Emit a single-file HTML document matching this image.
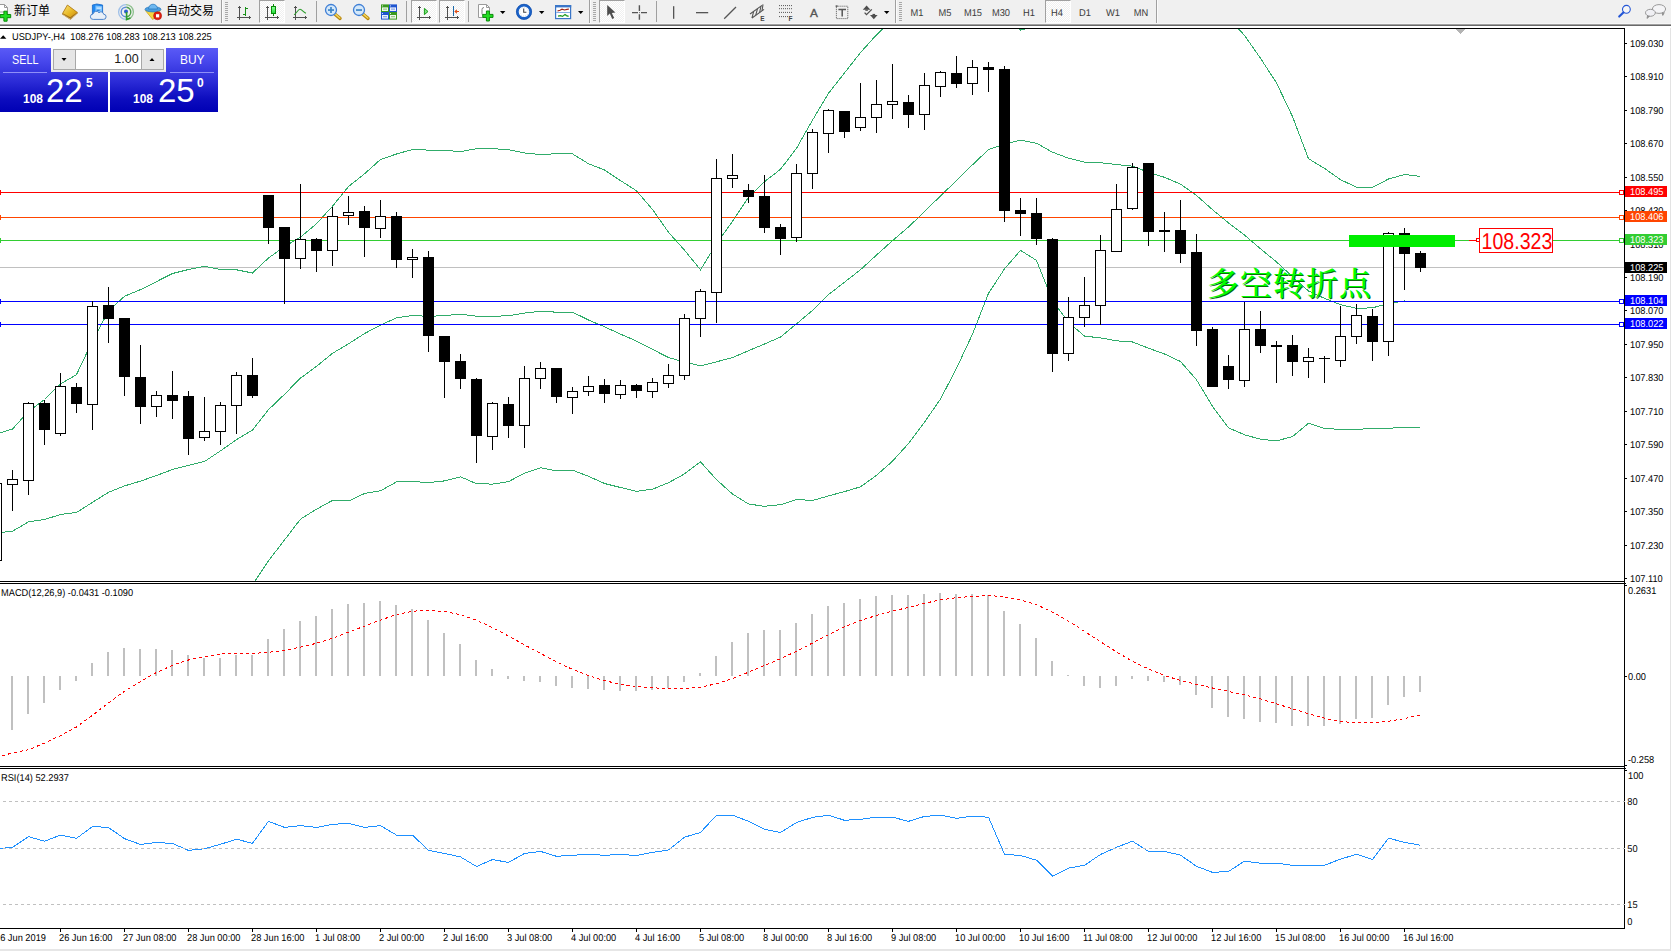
<!DOCTYPE html>
<html><head><meta charset="utf-8"><title>USDJPY-,H4</title>
<style>
html,body{margin:0;padding:0;background:#fff;}
#app{position:relative;width:1671px;height:951px;overflow:hidden;background:#fff;font-family:"Liberation Sans","Noto Sans CJK SC",sans-serif;}
svg{position:absolute;left:0;top:0;}
.txt text{font-family:"Liberation Sans","Noto Sans CJK SC",sans-serif;}

#tb{position:absolute;left:0;top:0;width:1671px;height:23px;background:#f0f0f0;}
#tbl{position:absolute;left:0;top:23px;width:1671px;height:5px;background:linear-gradient(#f6f6f6 0,#f6f6f6 1px,#a0a0a0 1px,#a0a0a0 2px,#696969 2px,#696969 3px,#fff 3px,#fff 5px);}
.tt{position:absolute;top:3px;font-size:12px;line-height:16px;color:#000;white-space:nowrap;}
.tf{position:absolute;top:7px;font-size:10.2px;line-height:12px;color:#3c3c3c;white-space:nowrap;text-align:center;width:28px;}
.pb{position:absolute;top:0;height:23px;width:26px;background:repeating-conic-gradient(#fff 0 25%,#f0f0f0 0 50%) 0 0/2px 2px;border-top:1px solid #a0a0a0;border-left:1px solid #a0a0a0;border-right:1px solid #fff;border-bottom:1px solid #fff;box-sizing:border-box;}


#tp{position:absolute;left:0;top:48px;width:218px;height:64px;}
#tp .blk{position:absolute;background:linear-gradient(#5a5af6 0,#4a4aee 18%,#2a2ad6 50%,#0c0cbe 80%,#0000b4 100%);}
#tp .lbl{position:absolute;color:#fff;font-size:13px;line-height:14px;top:5px;}
#tp .ul{position:absolute;top:24px;height:1px;background:#8f8ff8;}
#tp .sm{position:absolute;color:#fff;font-size:12px;font-weight:700;line-height:12px;top:45px;}
#tp .bg{position:absolute;color:#fff;font-size:33px;line-height:33px;top:26px;}
#tp .su{position:absolute;color:#fff;font-size:12px;font-weight:700;line-height:12px;top:29px;}
#sp{position:absolute;left:53px;top:1px;width:111px;height:21px;box-sizing:border-box;border:1px solid #a8a8a8;background:#fff;}
#sp .b{position:absolute;top:0;width:21px;height:19px;background:#e6e6e6;}
#sp .v{position:absolute;right:24.4px;top:2px;font-size:12.5px;line-height:15px;color:#1a1a1a;}

</style></head><body>
<div id="app">
<svg id="gfx" width="1671" height="951" viewBox="0 0 1671 951" shape-rendering="crispEdges">
<clipPath id="cm"><rect x="0" y="29" width="1624" height="552"/></clipPath>
<clipPath id="c2"><rect x="0" y="584" width="1624" height="182"/></clipPath>
<clipPath id="c3"><rect x="0" y="769" width="1624" height="159"/></clipPath>
<g clip-path="url(#cm)">
<rect x="0" y="267" width="1624" height="1" fill="#c0c0c0"/>
<polyline points="-3.5,434.0 12.5,429.0 28.5,411.5 44.5,399.5 60.5,384.0 76.5,374.6 92.5,341.0 108.5,311.0 124.5,296.3 140.5,289.6 156.5,281.6 172.5,273.5 188.5,269.5 204.5,266.4 220.5,269.5 236.5,269.8 252.5,273.0 268.5,258.0 284.5,246.5 300.5,237.1 316.5,223.7 332.5,206.2 348.5,186.5 364.5,173.8 380.5,159.5 396.5,154.0 412.5,149.5 428.5,150.1 444.5,150.3 460.5,151.6 476.5,148.7 492.5,148.6 508.5,149.7 524.5,153.0 540.5,154.6 556.5,153.7 572.5,153.9 588.5,163.7 604.5,170.0 620.5,180.6 636.5,190.8 652.5,209.5 668.5,232.3 684.5,250.2 700.5,269.8 716.5,243.8 732.5,221.3 748.5,197.4 764.5,181.7 780.5,169.3 796.5,148.3 812.5,120.2 828.5,93.3 844.5,72.9 860.5,52.6 876.5,34.8 892.5,20.0 908.5,10.5 924.5,1.0 940.5,-7.1 956.5,-7.1 972.5,-4.4 988.5,5.8 1004.5,19.4 1020.5,30.1 1036.5,26.1 1052.5,3.7 1068.5,-6.0 1084.5,-11.9 1100.5,-12.5 1116.5,-11.8 1132.5,-9.5 1148.5,-3.6 1164.5,0.6 1180.5,6.7 1196.5,11.0 1212.5,12.9 1228.5,18.0 1244.5,35.4 1260.5,58.3 1276.5,82.9 1292.5,116.6 1308.5,158.7 1324.5,168.4 1340.5,179.7 1356.5,187.2 1372.5,187.4 1388.5,179.0 1404.5,174.5 1420.5,176.5" fill="none" stroke="#30ac6a" stroke-width="1" />
<polyline points="-3.5,533.0 12.5,531.2 28.5,521.9 44.5,519.5 60.5,514.5 76.5,512.5 92.5,502.3 108.5,492.3 124.5,485.9 140.5,481.1 156.5,475.5 172.5,469.5 188.5,465.3 204.5,461.5 220.5,450.9 236.5,439.6 252.5,430.0 268.5,409.7 284.5,394.3 300.5,378.1 316.5,366.4 332.5,353.3 348.5,343.8 364.5,333.6 380.5,325.1 396.5,317.9 412.5,315.5 428.5,316.4 444.5,315.6 460.5,314.2 476.5,316.2 492.5,316.4 508.5,315.7 524.5,313.1 540.5,311.2 556.5,312.2 572.5,312.1 588.5,320.0 604.5,326.8 620.5,334.1 636.5,341.1 652.5,349.4 668.5,357.5 684.5,362.1 700.5,365.8 716.5,361.8 732.5,357.6 748.5,350.7 764.5,344.0 780.5,337.0 796.5,323.9 812.5,310.4 828.5,294.6 844.5,282.2 860.5,269.7 876.5,255.1 892.5,240.6 908.5,227.0 924.5,211.6 940.5,195.9 956.5,180.6 972.5,164.8 988.5,149.6 1004.5,144.2 1020.5,140.2 1036.5,143.2 1052.5,152.2 1068.5,158.2 1084.5,162.1 1100.5,162.7 1116.5,164.5 1132.5,166.2 1148.5,172.3 1164.5,177.3 1180.5,184.1 1196.5,195.4 1212.5,209.7 1228.5,222.9 1244.5,235.1 1260.5,248.8 1276.5,261.9 1292.5,276.6 1308.5,291.0 1324.5,298.4 1340.5,304.6 1356.5,308.4 1372.5,307.8 1388.5,303.6 1404.5,301.0 1420.5,301.9" fill="none" stroke="#30ac6a" stroke-width="1" />
<polyline points="-3.5,632.0 12.5,633.4 28.5,632.3 44.5,639.5 60.5,645.0 76.5,650.4 92.5,663.6 108.5,673.6 124.5,675.5 140.5,672.6 156.5,669.4 172.5,665.5 188.5,661.1 204.5,656.6 220.5,632.3 236.5,609.4 252.5,584.8 268.5,560.8 284.5,540.0 300.5,519.1 316.5,509.2 332.5,500.4 348.5,501.0 364.5,493.5 380.5,490.8 396.5,481.9 412.5,481.5 428.5,482.6 444.5,480.9 460.5,476.8 476.5,483.7 492.5,484.1 508.5,481.7 524.5,473.1 540.5,467.8 556.5,470.8 572.5,470.2 588.5,476.3 604.5,483.5 620.5,487.5 636.5,491.3 652.5,489.2 668.5,482.7 684.5,473.9 700.5,461.8 716.5,479.7 732.5,494.0 748.5,504.0 764.5,506.3 780.5,504.7 796.5,499.5 812.5,500.5 828.5,495.9 844.5,491.6 860.5,486.8 876.5,475.4 892.5,461.2 908.5,443.5 924.5,422.2 940.5,399.0 956.5,368.3 972.5,334.1 988.5,293.3 1004.5,268.9 1020.5,250.4 1036.5,260.4 1052.5,300.6 1068.5,322.4 1084.5,336.1 1100.5,337.9 1116.5,340.8 1132.5,342.0 1148.5,348.2 1164.5,354.0 1180.5,361.5 1196.5,379.8 1212.5,406.4 1228.5,427.8 1244.5,434.8 1260.5,439.2 1276.5,440.9 1292.5,436.6 1308.5,423.3 1324.5,428.4 1340.5,429.4 1356.5,429.6 1372.5,428.2 1388.5,428.2 1404.5,427.5 1420.5,427.2" fill="none" stroke="#30ac6a" stroke-width="1" />
<rect x="0" y="192" width="1624" height="1" fill="#ff0000"/>
<rect x="0" y="190" width="1" height="5" fill="#ff0000"/>
<rect x="1619" y="190" width="5" height="5" fill="#ff0000"/>
<rect x="1620" y="191" width="3" height="3" fill="#fff"/>
<rect x="0" y="217" width="1624" height="1" fill="#ff4500"/>
<rect x="0" y="215" width="1" height="5" fill="#ff4500"/>
<rect x="1619" y="215" width="5" height="5" fill="#ff4500"/>
<rect x="1620" y="216" width="3" height="3" fill="#fff"/>
<rect x="0" y="240" width="1624" height="1" fill="#32cd32"/>
<rect x="0" y="238" width="1" height="5" fill="#32cd32"/>
<rect x="1619" y="238" width="5" height="5" fill="#32cd32"/>
<rect x="1620" y="239" width="3" height="3" fill="#fff"/>
<rect x="0" y="301" width="1624" height="1" fill="#0000ff"/>
<rect x="0" y="299" width="1" height="5" fill="#0000ff"/>
<rect x="1619" y="299" width="5" height="5" fill="#0000ff"/>
<rect x="1620" y="300" width="3" height="3" fill="#fff"/>
<rect x="0" y="324" width="1624" height="1" fill="#0000ff"/>
<rect x="0" y="322" width="1" height="5" fill="#0000ff"/>
<rect x="1619" y="322" width="5" height="5" fill="#0000ff"/>
<rect x="1620" y="323" width="3" height="3" fill="#fff"/>
<rect x="-4" y="483" width="1" height="78" fill="#000"/>
<rect x="-9" y="483" width="11" height="78" fill="#000"/>
<rect x="-8" y="484" width="9" height="76" fill="#fff"/>
<rect x="12" y="470" width="1" height="41" fill="#000"/>
<rect x="7" y="479" width="11" height="6" fill="#000"/>
<rect x="8" y="480" width="9" height="4" fill="#fff"/>
<rect x="28" y="402" width="1" height="93" fill="#000"/>
<rect x="23" y="403" width="11" height="78" fill="#000"/>
<rect x="24" y="404" width="9" height="76" fill="#fff"/>
<rect x="44" y="400" width="1" height="45" fill="#000"/>
<rect x="39" y="403" width="11" height="27" fill="#000"/>
<rect x="60" y="373" width="1" height="63" fill="#000"/>
<rect x="55" y="386" width="11" height="48" fill="#000"/>
<rect x="56" y="387" width="9" height="46" fill="#fff"/>
<rect x="76" y="383" width="1" height="30" fill="#000"/>
<rect x="71" y="387" width="11" height="17" fill="#000"/>
<rect x="92" y="301" width="1" height="129" fill="#000"/>
<rect x="87" y="306" width="11" height="99" fill="#000"/>
<rect x="88" y="307" width="9" height="97" fill="#fff"/>
<rect x="108" y="287" width="1" height="56" fill="#000"/>
<rect x="103" y="305" width="11" height="14" fill="#000"/>
<rect x="124" y="318" width="1" height="78" fill="#000"/>
<rect x="119" y="318" width="11" height="59" fill="#000"/>
<rect x="140" y="345" width="1" height="79" fill="#000"/>
<rect x="135" y="377" width="11" height="30" fill="#000"/>
<rect x="156" y="391" width="1" height="26" fill="#000"/>
<rect x="151" y="395" width="11" height="12" fill="#000"/>
<rect x="152" y="396" width="9" height="10" fill="#fff"/>
<rect x="172" y="371" width="1" height="48" fill="#000"/>
<rect x="167" y="395" width="11" height="6" fill="#000"/>
<rect x="188" y="391" width="1" height="64" fill="#000"/>
<rect x="183" y="396" width="11" height="43" fill="#000"/>
<rect x="204" y="397" width="1" height="44" fill="#000"/>
<rect x="199" y="431" width="11" height="7" fill="#000"/>
<rect x="200" y="432" width="9" height="5" fill="#fff"/>
<rect x="220" y="402" width="1" height="43" fill="#000"/>
<rect x="215" y="405" width="11" height="27" fill="#000"/>
<rect x="216" y="406" width="9" height="25" fill="#fff"/>
<rect x="236" y="372" width="1" height="62" fill="#000"/>
<rect x="231" y="375" width="11" height="31" fill="#000"/>
<rect x="232" y="376" width="9" height="29" fill="#fff"/>
<rect x="252" y="358" width="1" height="40" fill="#000"/>
<rect x="247" y="375" width="11" height="21" fill="#000"/>
<rect x="268" y="195" width="1" height="49" fill="#000"/>
<rect x="263" y="195" width="11" height="33" fill="#000"/>
<rect x="284" y="227" width="1" height="77" fill="#000"/>
<rect x="279" y="227" width="11" height="32" fill="#000"/>
<rect x="300" y="184" width="1" height="85" fill="#000"/>
<rect x="295" y="239" width="11" height="20" fill="#000"/>
<rect x="296" y="240" width="9" height="18" fill="#fff"/>
<rect x="316" y="238" width="1" height="34" fill="#000"/>
<rect x="311" y="239" width="11" height="12" fill="#000"/>
<rect x="332" y="207" width="1" height="59" fill="#000"/>
<rect x="327" y="216" width="11" height="35" fill="#000"/>
<rect x="328" y="217" width="9" height="33" fill="#fff"/>
<rect x="348" y="196" width="1" height="29" fill="#000"/>
<rect x="343" y="212" width="11" height="4" fill="#000"/>
<rect x="344" y="213" width="9" height="2" fill="#fff"/>
<rect x="364" y="206" width="1" height="51" fill="#000"/>
<rect x="359" y="211" width="11" height="17" fill="#000"/>
<rect x="380" y="200" width="1" height="38" fill="#000"/>
<rect x="375" y="216" width="11" height="13" fill="#000"/>
<rect x="376" y="217" width="9" height="11" fill="#fff"/>
<rect x="396" y="212" width="1" height="56" fill="#000"/>
<rect x="391" y="216" width="11" height="44" fill="#000"/>
<rect x="412" y="249" width="1" height="29" fill="#000"/>
<rect x="407" y="257" width="11" height="3" fill="#000"/>
<rect x="408" y="258" width="9" height="1" fill="#fff"/>
<rect x="428" y="251" width="1" height="101" fill="#000"/>
<rect x="423" y="257" width="11" height="79" fill="#000"/>
<rect x="444" y="336" width="1" height="62" fill="#000"/>
<rect x="439" y="336" width="11" height="26" fill="#000"/>
<rect x="460" y="354" width="1" height="35" fill="#000"/>
<rect x="455" y="361" width="11" height="18" fill="#000"/>
<rect x="476" y="378" width="1" height="85" fill="#000"/>
<rect x="471" y="379" width="11" height="57" fill="#000"/>
<rect x="492" y="402" width="1" height="48" fill="#000"/>
<rect x="487" y="403" width="11" height="34" fill="#000"/>
<rect x="488" y="404" width="9" height="32" fill="#fff"/>
<rect x="508" y="397" width="1" height="41" fill="#000"/>
<rect x="503" y="404" width="11" height="22" fill="#000"/>
<rect x="524" y="366" width="1" height="82" fill="#000"/>
<rect x="519" y="378" width="11" height="48" fill="#000"/>
<rect x="520" y="379" width="9" height="46" fill="#fff"/>
<rect x="540" y="362" width="1" height="27" fill="#000"/>
<rect x="535" y="368" width="11" height="11" fill="#000"/>
<rect x="536" y="369" width="9" height="9" fill="#fff"/>
<rect x="556" y="368" width="1" height="35" fill="#000"/>
<rect x="551" y="368" width="11" height="29" fill="#000"/>
<rect x="572" y="387" width="1" height="27" fill="#000"/>
<rect x="567" y="391" width="11" height="7" fill="#000"/>
<rect x="568" y="392" width="9" height="5" fill="#fff"/>
<rect x="588" y="376" width="1" height="20" fill="#000"/>
<rect x="583" y="386" width="11" height="6" fill="#000"/>
<rect x="584" y="387" width="9" height="4" fill="#fff"/>
<rect x="604" y="379" width="1" height="24" fill="#000"/>
<rect x="599" y="385" width="11" height="9" fill="#000"/>
<rect x="620" y="380" width="1" height="19" fill="#000"/>
<rect x="615" y="385" width="11" height="10" fill="#000"/>
<rect x="616" y="386" width="9" height="8" fill="#fff"/>
<rect x="636" y="384" width="1" height="14" fill="#000"/>
<rect x="631" y="385" width="11" height="6" fill="#000"/>
<rect x="652" y="378" width="1" height="20" fill="#000"/>
<rect x="647" y="382" width="11" height="10" fill="#000"/>
<rect x="648" y="383" width="9" height="8" fill="#fff"/>
<rect x="668" y="364" width="1" height="24" fill="#000"/>
<rect x="663" y="375" width="11" height="9" fill="#000"/>
<rect x="664" y="376" width="9" height="7" fill="#fff"/>
<rect x="684" y="314" width="1" height="66" fill="#000"/>
<rect x="679" y="318" width="11" height="58" fill="#000"/>
<rect x="680" y="319" width="9" height="56" fill="#fff"/>
<rect x="700" y="289" width="1" height="48" fill="#000"/>
<rect x="695" y="291" width="11" height="28" fill="#000"/>
<rect x="696" y="292" width="9" height="26" fill="#fff"/>
<rect x="716" y="159" width="1" height="164" fill="#000"/>
<rect x="711" y="178" width="11" height="115" fill="#000"/>
<rect x="712" y="179" width="9" height="113" fill="#fff"/>
<rect x="732" y="154" width="1" height="34" fill="#000"/>
<rect x="727" y="175" width="11" height="4" fill="#000"/>
<rect x="728" y="176" width="9" height="2" fill="#fff"/>
<rect x="748" y="184" width="1" height="19" fill="#000"/>
<rect x="743" y="190" width="11" height="7" fill="#000"/>
<rect x="764" y="175" width="1" height="58" fill="#000"/>
<rect x="759" y="196" width="11" height="32" fill="#000"/>
<rect x="780" y="224" width="1" height="31" fill="#000"/>
<rect x="775" y="227" width="11" height="12" fill="#000"/>
<rect x="796" y="164" width="1" height="78" fill="#000"/>
<rect x="791" y="173" width="11" height="65" fill="#000"/>
<rect x="792" y="174" width="9" height="63" fill="#fff"/>
<rect x="812" y="129" width="1" height="60" fill="#000"/>
<rect x="807" y="132" width="11" height="42" fill="#000"/>
<rect x="808" y="133" width="9" height="40" fill="#fff"/>
<rect x="828" y="109" width="1" height="44" fill="#000"/>
<rect x="823" y="110" width="11" height="24" fill="#000"/>
<rect x="824" y="111" width="9" height="22" fill="#fff"/>
<rect x="844" y="111" width="1" height="27" fill="#000"/>
<rect x="839" y="111" width="11" height="21" fill="#000"/>
<rect x="860" y="83" width="1" height="48" fill="#000"/>
<rect x="855" y="117" width="11" height="11" fill="#000"/>
<rect x="856" y="118" width="9" height="9" fill="#fff"/>
<rect x="876" y="80" width="1" height="53" fill="#000"/>
<rect x="871" y="104" width="11" height="14" fill="#000"/>
<rect x="872" y="105" width="9" height="12" fill="#fff"/>
<rect x="892" y="64" width="1" height="55" fill="#000"/>
<rect x="887" y="101" width="11" height="4" fill="#000"/>
<rect x="888" y="102" width="9" height="2" fill="#fff"/>
<rect x="908" y="95" width="1" height="33" fill="#000"/>
<rect x="903" y="102" width="11" height="13" fill="#000"/>
<rect x="924" y="73" width="1" height="57" fill="#000"/>
<rect x="919" y="85" width="11" height="30" fill="#000"/>
<rect x="920" y="86" width="9" height="28" fill="#fff"/>
<rect x="940" y="71" width="1" height="26" fill="#000"/>
<rect x="935" y="72" width="11" height="15" fill="#000"/>
<rect x="936" y="73" width="9" height="13" fill="#fff"/>
<rect x="956" y="56" width="1" height="32" fill="#000"/>
<rect x="951" y="73" width="11" height="11" fill="#000"/>
<rect x="972" y="60" width="1" height="35" fill="#000"/>
<rect x="967" y="67" width="11" height="17" fill="#000"/>
<rect x="968" y="68" width="9" height="15" fill="#fff"/>
<rect x="988" y="62" width="1" height="30" fill="#000"/>
<rect x="983" y="67" width="11" height="3" fill="#000"/>
<rect x="1004" y="66" width="1" height="156" fill="#000"/>
<rect x="999" y="69" width="11" height="142" fill="#000"/>
<rect x="1020" y="198" width="1" height="38" fill="#000"/>
<rect x="1015" y="210" width="11" height="4" fill="#000"/>
<rect x="1036" y="198" width="1" height="47" fill="#000"/>
<rect x="1031" y="213" width="11" height="26" fill="#000"/>
<rect x="1052" y="238" width="1" height="134" fill="#000"/>
<rect x="1047" y="239" width="11" height="115" fill="#000"/>
<rect x="1068" y="297" width="1" height="64" fill="#000"/>
<rect x="1063" y="317" width="11" height="37" fill="#000"/>
<rect x="1064" y="318" width="9" height="35" fill="#fff"/>
<rect x="1084" y="277" width="1" height="50" fill="#000"/>
<rect x="1079" y="305" width="11" height="13" fill="#000"/>
<rect x="1080" y="306" width="9" height="11" fill="#fff"/>
<rect x="1100" y="235" width="1" height="90" fill="#000"/>
<rect x="1095" y="250" width="11" height="56" fill="#000"/>
<rect x="1096" y="251" width="9" height="54" fill="#fff"/>
<rect x="1116" y="184" width="1" height="68" fill="#000"/>
<rect x="1111" y="209" width="11" height="43" fill="#000"/>
<rect x="1112" y="210" width="9" height="41" fill="#fff"/>
<rect x="1132" y="163" width="1" height="47" fill="#000"/>
<rect x="1127" y="167" width="11" height="42" fill="#000"/>
<rect x="1128" y="168" width="9" height="40" fill="#fff"/>
<rect x="1148" y="163" width="1" height="83" fill="#000"/>
<rect x="1143" y="163" width="11" height="69" fill="#000"/>
<rect x="1164" y="212" width="1" height="40" fill="#000"/>
<rect x="1159" y="230" width="11" height="2" fill="#000"/>
<rect x="1180" y="200" width="1" height="63" fill="#000"/>
<rect x="1175" y="230" width="11" height="24" fill="#000"/>
<rect x="1196" y="234" width="1" height="112" fill="#000"/>
<rect x="1191" y="252" width="11" height="79" fill="#000"/>
<rect x="1212" y="327" width="1" height="60" fill="#000"/>
<rect x="1207" y="329" width="11" height="58" fill="#000"/>
<rect x="1228" y="355" width="1" height="34" fill="#000"/>
<rect x="1223" y="366" width="11" height="14" fill="#000"/>
<rect x="1244" y="302" width="1" height="85" fill="#000"/>
<rect x="1239" y="329" width="11" height="52" fill="#000"/>
<rect x="1240" y="330" width="9" height="50" fill="#fff"/>
<rect x="1260" y="311" width="1" height="42" fill="#000"/>
<rect x="1255" y="329" width="11" height="17" fill="#000"/>
<rect x="1276" y="341" width="1" height="42" fill="#000"/>
<rect x="1271" y="345" width="11" height="2" fill="#000"/>
<rect x="1292" y="335" width="1" height="41" fill="#000"/>
<rect x="1287" y="345" width="11" height="17" fill="#000"/>
<rect x="1308" y="348" width="1" height="30" fill="#000"/>
<rect x="1303" y="357" width="11" height="5" fill="#000"/>
<rect x="1304" y="358" width="9" height="3" fill="#fff"/>
<rect x="1324" y="356" width="1" height="27" fill="#000"/>
<rect x="1319" y="358" width="11" height="1" fill="#000"/>
<rect x="1340" y="306" width="1" height="61" fill="#000"/>
<rect x="1335" y="336" width="11" height="25" fill="#000"/>
<rect x="1336" y="337" width="9" height="23" fill="#fff"/>
<rect x="1356" y="304" width="1" height="40" fill="#000"/>
<rect x="1351" y="315" width="11" height="22" fill="#000"/>
<rect x="1352" y="316" width="9" height="20" fill="#fff"/>
<rect x="1372" y="309" width="1" height="52" fill="#000"/>
<rect x="1367" y="316" width="11" height="26" fill="#000"/>
<rect x="1388" y="232" width="1" height="124" fill="#000"/>
<rect x="1383" y="233" width="11" height="109" fill="#000"/>
<rect x="1384" y="234" width="9" height="107" fill="#fff"/>
<rect x="1404" y="228" width="1" height="62" fill="#000"/>
<rect x="1399" y="233" width="11" height="21" fill="#000"/>
<rect x="1420" y="251" width="1" height="21" fill="#000"/>
<rect x="1415" y="253" width="11" height="15" fill="#000"/>
<rect x="1349" y="235" width="106" height="12" fill="#00ee00"/>
<rect x="1469" y="240" width="8" height="1" fill="#ff0000"/>
<rect x="1476" y="238" width="4" height="4" fill="#ff0000"/>
<rect x="1477" y="239" width="2" height="2" fill="#fff"/>
<rect x="1479" y="228" width="74" height="25" fill="#ff0000"/>
<rect x="1480" y="229" width="72" height="23" fill="#fff"/>
</g>
<g clip-path="url(#c2)">
<rect x="11" y="676" width="2" height="54" fill="#c0c0c0"/>
<rect x="27" y="676" width="2" height="38" fill="#c0c0c0"/>
<rect x="43" y="676" width="2" height="27" fill="#c0c0c0"/>
<rect x="59" y="676" width="2" height="14" fill="#c0c0c0"/>
<rect x="75" y="676" width="2" height="5" fill="#c0c0c0"/>
<rect x="91" y="663" width="2" height="13" fill="#c0c0c0"/>
<rect x="107" y="652" width="2" height="24" fill="#c0c0c0"/>
<rect x="123" y="648" width="2" height="28" fill="#c0c0c0"/>
<rect x="139" y="649" width="2" height="27" fill="#c0c0c0"/>
<rect x="155" y="649" width="2" height="27" fill="#c0c0c0"/>
<rect x="171" y="650" width="2" height="26" fill="#c0c0c0"/>
<rect x="187" y="655" width="2" height="21" fill="#c0c0c0"/>
<rect x="203" y="658" width="2" height="18" fill="#c0c0c0"/>
<rect x="219" y="658" width="2" height="18" fill="#c0c0c0"/>
<rect x="235" y="655" width="2" height="21" fill="#c0c0c0"/>
<rect x="251" y="655" width="2" height="21" fill="#c0c0c0"/>
<rect x="267" y="639" width="2" height="37" fill="#c0c0c0"/>
<rect x="283" y="629" width="2" height="47" fill="#c0c0c0"/>
<rect x="299" y="621" width="2" height="55" fill="#c0c0c0"/>
<rect x="315" y="616" width="2" height="60" fill="#c0c0c0"/>
<rect x="331" y="609" width="2" height="67" fill="#c0c0c0"/>
<rect x="347" y="604" width="2" height="72" fill="#c0c0c0"/>
<rect x="363" y="603" width="2" height="73" fill="#c0c0c0"/>
<rect x="379" y="601" width="2" height="75" fill="#c0c0c0"/>
<rect x="395" y="605" width="2" height="71" fill="#c0c0c0"/>
<rect x="411" y="609" width="2" height="67" fill="#c0c0c0"/>
<rect x="427" y="620" width="2" height="56" fill="#c0c0c0"/>
<rect x="443" y="633" width="2" height="43" fill="#c0c0c0"/>
<rect x="459" y="644" width="2" height="32" fill="#c0c0c0"/>
<rect x="475" y="660" width="2" height="16" fill="#c0c0c0"/>
<rect x="491" y="669" width="2" height="7" fill="#c0c0c0"/>
<rect x="507" y="676" width="2" height="3" fill="#c0c0c0"/>
<rect x="523" y="676" width="2" height="5" fill="#c0c0c0"/>
<rect x="539" y="676" width="2" height="6" fill="#c0c0c0"/>
<rect x="555" y="676" width="2" height="10" fill="#c0c0c0"/>
<rect x="571" y="676" width="2" height="12" fill="#c0c0c0"/>
<rect x="587" y="676" width="2" height="13" fill="#c0c0c0"/>
<rect x="603" y="676" width="2" height="14" fill="#c0c0c0"/>
<rect x="619" y="676" width="2" height="15" fill="#c0c0c0"/>
<rect x="635" y="676" width="2" height="15" fill="#c0c0c0"/>
<rect x="651" y="676" width="2" height="14" fill="#c0c0c0"/>
<rect x="667" y="676" width="2" height="12" fill="#c0c0c0"/>
<rect x="683" y="676" width="2" height="6" fill="#c0c0c0"/>
<rect x="699" y="673" width="2" height="3" fill="#c0c0c0"/>
<rect x="715" y="656" width="2" height="20" fill="#c0c0c0"/>
<rect x="731" y="642" width="2" height="34" fill="#c0c0c0"/>
<rect x="747" y="633" width="2" height="43" fill="#c0c0c0"/>
<rect x="763" y="630" width="2" height="46" fill="#c0c0c0"/>
<rect x="779" y="630" width="2" height="46" fill="#c0c0c0"/>
<rect x="795" y="623" width="2" height="53" fill="#c0c0c0"/>
<rect x="811" y="614" width="2" height="62" fill="#c0c0c0"/>
<rect x="827" y="606" width="2" height="70" fill="#c0c0c0"/>
<rect x="843" y="603" width="2" height="73" fill="#c0c0c0"/>
<rect x="859" y="599" width="2" height="77" fill="#c0c0c0"/>
<rect x="875" y="596" width="2" height="80" fill="#c0c0c0"/>
<rect x="891" y="595" width="2" height="81" fill="#c0c0c0"/>
<rect x="907" y="595" width="2" height="81" fill="#c0c0c0"/>
<rect x="923" y="594" width="2" height="82" fill="#c0c0c0"/>
<rect x="939" y="593" width="2" height="83" fill="#c0c0c0"/>
<rect x="955" y="594" width="2" height="82" fill="#c0c0c0"/>
<rect x="971" y="594" width="2" height="82" fill="#c0c0c0"/>
<rect x="987" y="595" width="2" height="81" fill="#c0c0c0"/>
<rect x="1003" y="611" width="2" height="65" fill="#c0c0c0"/>
<rect x="1019" y="624" width="2" height="52" fill="#c0c0c0"/>
<rect x="1035" y="638" width="2" height="38" fill="#c0c0c0"/>
<rect x="1051" y="661" width="2" height="15" fill="#c0c0c0"/>
<rect x="1067" y="675" width="2" height="1" fill="#c0c0c0"/>
<rect x="1083" y="676" width="2" height="10" fill="#c0c0c0"/>
<rect x="1099" y="676" width="2" height="12" fill="#c0c0c0"/>
<rect x="1115" y="676" width="2" height="10" fill="#c0c0c0"/>
<rect x="1131" y="676" width="2" height="3" fill="#c0c0c0"/>
<rect x="1147" y="676" width="2" height="5" fill="#c0c0c0"/>
<rect x="1163" y="676" width="2" height="6" fill="#c0c0c0"/>
<rect x="1179" y="676" width="2" height="9" fill="#c0c0c0"/>
<rect x="1195" y="676" width="2" height="19" fill="#c0c0c0"/>
<rect x="1211" y="676" width="2" height="32" fill="#c0c0c0"/>
<rect x="1227" y="676" width="2" height="41" fill="#c0c0c0"/>
<rect x="1243" y="676" width="2" height="43" fill="#c0c0c0"/>
<rect x="1259" y="676" width="2" height="46" fill="#c0c0c0"/>
<rect x="1275" y="676" width="2" height="47" fill="#c0c0c0"/>
<rect x="1291" y="676" width="2" height="50" fill="#c0c0c0"/>
<rect x="1307" y="676" width="2" height="50" fill="#c0c0c0"/>
<rect x="1323" y="676" width="2" height="50" fill="#c0c0c0"/>
<rect x="1339" y="676" width="2" height="48" fill="#c0c0c0"/>
<rect x="1355" y="676" width="2" height="43" fill="#c0c0c0"/>
<rect x="1371" y="676" width="2" height="42" fill="#c0c0c0"/>
<rect x="1387" y="676" width="2" height="29" fill="#c0c0c0"/>
<rect x="1403" y="676" width="2" height="21" fill="#c0c0c0"/>
<rect x="1419" y="676" width="2" height="16" fill="#c0c0c0"/>
<polyline points="-3.5,757.3 12.5,752.9 28.5,749.8 44.5,743.1 60.5,735.6 76.5,727.0 92.5,715.2 108.5,703.0 124.5,691.2 140.5,681.5 156.5,672.4 172.5,665.3 188.5,660.0 204.5,656.5 220.5,654.0 236.5,653.1 252.5,653.4 268.5,652.4 284.5,650.2 300.5,647.1 316.5,643.3 332.5,638.2 348.5,632.2 364.5,626.1 380.5,620.1 396.5,614.6 412.5,611.2 428.5,610.2 444.5,611.6 460.5,614.7 476.5,620.3 492.5,627.6 508.5,636.0 524.5,644.9 540.5,653.4 556.5,661.9 572.5,669.4 588.5,675.6 604.5,680.7 620.5,684.2 636.5,686.6 652.5,687.8 668.5,688.6 684.5,688.6 700.5,687.2 716.5,683.7 732.5,678.5 748.5,672.2 764.5,665.4 780.5,658.7 796.5,651.2 812.5,643.0 828.5,634.6 844.5,626.8 860.5,620.5 876.5,615.4 892.5,611.2 908.5,607.3 924.5,603.3 940.5,599.9 956.5,597.7 972.5,596.4 988.5,595.5 1004.5,596.8 1020.5,600.0 1036.5,604.7 1052.5,612.1 1068.5,621.1 1084.5,631.4 1100.5,641.8 1116.5,652.0 1132.5,661.3 1148.5,669.0 1164.5,675.4 1180.5,680.6 1196.5,684.4 1212.5,688.0 1228.5,691.4 1244.5,694.9 1260.5,698.9 1276.5,703.8 1292.5,708.8 1308.5,713.7 1324.5,718.2 1340.5,721.5 1356.5,722.7 1372.5,722.8 1388.5,721.3 1404.5,718.5 1420.5,715.0" fill="none" stroke="#ff0000" stroke-width="1" stroke-dasharray="3 3"/>
</g>
<g clip-path="url(#c3)">
<polyline points="-3.5,848.8 12.5,847.3 28.5,836.6 44.5,841.2 60.5,835.1 76.5,838.4 92.5,826.4 108.5,827.6 124.5,838.6 140.5,844.5 156.5,842.5 172.5,843.5 188.5,850.4 204.5,848.8 220.5,844.3 236.5,839.2 252.5,843.3 268.5,821.3 284.5,827.4 300.5,825.6 316.5,827.4 332.5,824.4 348.5,823.3 364.5,827.4 380.5,825.6 396.5,835.1 412.5,835.1 428.5,850.4 444.5,853.5 460.5,856.9 476.5,866.5 492.5,859.6 508.5,862.4 524.5,853.5 540.5,851.4 556.5,856.3 572.5,855.3 588.5,854.3 604.5,855.3 620.5,854.5 636.5,855.5 652.5,852.4 668.5,850.0 684.5,837.2 700.5,832.5 716.5,815.2 732.5,815.2 748.5,821.3 764.5,829.4 780.5,832.5 796.5,822.5 812.5,817.4 828.5,815.2 844.5,820.3 860.5,819.3 876.5,817.2 892.5,817.2 908.5,821.3 924.5,816.4 940.5,815.2 956.5,818.3 972.5,816.2 988.5,817.2 1004.5,854.3 1020.5,855.5 1036.5,860.2 1052.5,876.2 1068.5,868.1 1084.5,865.3 1100.5,854.5 1116.5,847.3 1132.5,841.2 1148.5,851.4 1164.5,851.4 1180.5,855.1 1196.5,866.3 1212.5,872.4 1228.5,871.4 1244.5,861.2 1260.5,863.2 1276.5,863.2 1292.5,865.3 1308.5,865.3 1324.5,865.3 1340.5,859.1 1356.5,854.3 1372.5,859.4 1388.5,838.2 1404.5,842.3 1420.5,845.3" fill="none" stroke="#1e90ff" stroke-width="1" />
</g>
<path d="M1455,29 L1465,29 L1460,34 Z" fill="#b4b4b4"/>
<rect x="0" y="28" width="1625" height="1" fill="#000"/>
<rect x="1624" y="28" width="1" height="901" fill="#000"/>
<rect x="0" y="581" width="1625" height="1" fill="#000"/>
<rect x="0" y="583" width="1626" height="1" fill="#000"/>
<rect x="0" y="766" width="1625" height="1" fill="#000"/>
<rect x="0" y="768" width="1626" height="1" fill="#000"/>
<rect x="0" y="928" width="1625" height="1" fill="#000"/>
<line x1="3" y1="801.5" x2="1625" y2="801.5" stroke="#c0c0c0" stroke-width="1" stroke-dasharray="3 3"/>
<line x1="3" y1="848.5" x2="1625" y2="848.5" stroke="#c0c0c0" stroke-width="1" stroke-dasharray="3 3"/>
<line x1="3" y1="904.5" x2="1625" y2="904.5" stroke="#c0c0c0" stroke-width="1" stroke-dasharray="3 3"/>
<rect x="1625" y="43" width="2" height="1" fill="#000"/>
<rect x="1625" y="76" width="2" height="1" fill="#000"/>
<rect x="1625" y="110" width="2" height="1" fill="#000"/>
<rect x="1625" y="143" width="2" height="1" fill="#000"/>
<rect x="1625" y="177" width="2" height="1" fill="#000"/>
<rect x="1625" y="210" width="2" height="1" fill="#000"/>
<rect x="1625" y="244" width="2" height="1" fill="#000"/>
<rect x="1625" y="277" width="2" height="1" fill="#000"/>
<rect x="1625" y="310" width="2" height="1" fill="#000"/>
<rect x="1625" y="344" width="2" height="1" fill="#000"/>
<rect x="1625" y="377" width="2" height="1" fill="#000"/>
<rect x="1625" y="411" width="2" height="1" fill="#000"/>
<rect x="1625" y="444" width="2" height="1" fill="#000"/>
<rect x="1625" y="478" width="2" height="1" fill="#000"/>
<rect x="1625" y="511" width="2" height="1" fill="#000"/>
<rect x="1625" y="545" width="2" height="1" fill="#000"/>
<rect x="1625" y="578" width="2" height="1" fill="#000"/>
<rect x="1625" y="585" width="2" height="1" fill="#000"/>
<rect x="1625" y="676" width="2" height="1" fill="#000"/>
<rect x="1625" y="765" width="2" height="1" fill="#000"/>
<rect x="1625" y="770" width="2" height="1" fill="#000"/>
<rect x="60" y="929" width="1" height="3" fill="#000"/>
<rect x="124" y="929" width="1" height="3" fill="#000"/>
<rect x="188" y="929" width="1" height="3" fill="#000"/>
<rect x="252" y="929" width="1" height="3" fill="#000"/>
<rect x="316" y="929" width="1" height="3" fill="#000"/>
<rect x="380" y="929" width="1" height="3" fill="#000"/>
<rect x="444" y="929" width="1" height="3" fill="#000"/>
<rect x="508" y="929" width="1" height="3" fill="#000"/>
<rect x="572" y="929" width="1" height="3" fill="#000"/>
<rect x="636" y="929" width="1" height="3" fill="#000"/>
<rect x="700" y="929" width="1" height="3" fill="#000"/>
<rect x="764" y="929" width="1" height="3" fill="#000"/>
<rect x="828" y="929" width="1" height="3" fill="#000"/>
<rect x="892" y="929" width="1" height="3" fill="#000"/>
<rect x="956" y="929" width="1" height="3" fill="#000"/>
<rect x="1020" y="929" width="1" height="3" fill="#000"/>
<rect x="1084" y="929" width="1" height="3" fill="#000"/>
<rect x="1148" y="929" width="1" height="3" fill="#000"/>
<rect x="1212" y="929" width="1" height="3" fill="#000"/>
<rect x="1276" y="929" width="1" height="3" fill="#000"/>
<rect x="1340" y="929" width="1" height="3" fill="#000"/>
<rect x="1404" y="929" width="1" height="3" fill="#000"/>
<rect x="1670" y="26" width="1" height="925" fill="#e3e3e3"/>
<rect x="0" y="949" width="1671" height="2" fill="#e6e6e6"/>
</svg>
<svg class="txt" width="1671" height="951" viewBox="0 0 1671 951">
<text transform="translate(1630,47) scale(0.935,1) rotate(0.03)" fill="#000" font-size="9.9" text-anchor="start">109.030</text>
<text transform="translate(1630,80) scale(0.935,1) rotate(0.03)" fill="#000" font-size="9.9" text-anchor="start">108.910</text>
<text transform="translate(1630,114) scale(0.935,1) rotate(0.03)" fill="#000" font-size="9.9" text-anchor="start">108.790</text>
<text transform="translate(1630,147) scale(0.935,1) rotate(0.03)" fill="#000" font-size="9.9" text-anchor="start">108.670</text>
<text transform="translate(1630,181) scale(0.935,1) rotate(0.03)" fill="#000" font-size="9.9" text-anchor="start">108.550</text>
<text transform="translate(1630,214) scale(0.935,1) rotate(0.03)" fill="#000" font-size="9.9" text-anchor="start">108.430</text>
<text transform="translate(1630,248) scale(0.935,1) rotate(0.03)" fill="#000" font-size="9.9" text-anchor="start">108.310</text>
<text transform="translate(1630,281) scale(0.935,1) rotate(0.03)" fill="#000" font-size="9.9" text-anchor="start">108.190</text>
<text transform="translate(1630,314) scale(0.935,1) rotate(0.03)" fill="#000" font-size="9.9" text-anchor="start">108.070</text>
<text transform="translate(1630,348) scale(0.935,1) rotate(0.03)" fill="#000" font-size="9.9" text-anchor="start">107.950</text>
<text transform="translate(1630,381) scale(0.935,1) rotate(0.03)" fill="#000" font-size="9.9" text-anchor="start">107.830</text>
<text transform="translate(1630,415) scale(0.935,1) rotate(0.03)" fill="#000" font-size="9.9" text-anchor="start">107.710</text>
<text transform="translate(1630,448) scale(0.935,1) rotate(0.03)" fill="#000" font-size="9.9" text-anchor="start">107.590</text>
<text transform="translate(1630,482) scale(0.935,1) rotate(0.03)" fill="#000" font-size="9.9" text-anchor="start">107.470</text>
<text transform="translate(1630,515) scale(0.935,1) rotate(0.03)" fill="#000" font-size="9.9" text-anchor="start">107.350</text>
<text transform="translate(1630,549) scale(0.935,1) rotate(0.03)" fill="#000" font-size="9.9" text-anchor="start">107.230</text>
<text transform="translate(1630,582) scale(0.935,1) rotate(0.03)" fill="#000" font-size="9.9" text-anchor="start">107.110</text>
</svg>
<svg width="1671" height="951" viewBox="0 0 1671 951" shape-rendering="crispEdges">
<rect x="1625" y="186" width="42" height="11" fill="#ff0000"/>
<rect x="1625" y="211" width="42" height="11" fill="#ff4500"/>
<rect x="1625" y="234" width="42" height="11" fill="#32cd32"/>
<rect x="1625" y="295" width="42" height="11" fill="#0000ff"/>
<rect x="1625" y="318" width="42" height="11" fill="#0000ff"/>
<rect x="1625" y="262" width="42" height="11" fill="#000"/>
</svg>
<svg class="txt" width="1671" height="951" viewBox="0 0 1671 951">
<text transform="translate(1630,195) scale(0.935,1) rotate(0.03)" fill="#fff" font-size="9.9" text-anchor="start">108.495</text>
<text transform="translate(1630,220) scale(0.935,1) rotate(0.03)" fill="#fff" font-size="9.9" text-anchor="start">108.406</text>
<text transform="translate(1630,243) scale(0.935,1) rotate(0.03)" fill="#fff" font-size="9.9" text-anchor="start">108.323</text>
<text transform="translate(1630,304) scale(0.935,1) rotate(0.03)" fill="#fff" font-size="9.9" text-anchor="start">108.104</text>
<text transform="translate(1630,327) scale(0.935,1) rotate(0.03)" fill="#fff" font-size="9.9" text-anchor="start">108.022</text>
<text transform="translate(1630,271) scale(0.935,1) rotate(0.03)" fill="#fff" font-size="9.9" text-anchor="start">108.225</text>
<text transform="translate(1628,594) scale(0.935,1) rotate(0.03)" fill="#000" font-size="9.9" text-anchor="start">0.2631</text>
<text transform="translate(1628,680) scale(0.935,1) rotate(0.03)" fill="#000" font-size="9.9" text-anchor="start">0.00</text>
<text transform="translate(1628,763) scale(0.935,1) rotate(0.03)" fill="#000" font-size="9.9" text-anchor="start">-0.258</text>
<text transform="translate(1628,779) scale(0.935,1) rotate(0.03)" fill="#000" font-size="9.9" text-anchor="start">100</text>
<text transform="translate(1627.3,805) scale(0.935,1) rotate(0.03)" fill="#000" font-size="9.9" text-anchor="start">80</text>
<text transform="translate(1627.3,852) scale(0.935,1) rotate(0.03)" fill="#000" font-size="9.9" text-anchor="start">50</text>
<text transform="translate(1627.3,908) scale(0.935,1) rotate(0.03)" fill="#000" font-size="9.9" text-anchor="start">15</text>
<text transform="translate(1627.3,925) scale(0.935,1) rotate(0.03)" fill="#000" font-size="9.9" text-anchor="start">0</text>
<text transform="translate(-5,941) scale(0.935,1) rotate(0.03)" fill="#000" font-size="9.9" text-anchor="start">26 Jun 2019</text>
<text transform="translate(59,941) scale(0.935,1) rotate(0.03)" fill="#000" font-size="9.9" text-anchor="start">26 Jun 16:00</text>
<text transform="translate(123,941) scale(0.935,1) rotate(0.03)" fill="#000" font-size="9.9" text-anchor="start">27 Jun 08:00</text>
<text transform="translate(187,941) scale(0.935,1) rotate(0.03)" fill="#000" font-size="9.9" text-anchor="start">28 Jun 00:00</text>
<text transform="translate(251,941) scale(0.935,1) rotate(0.03)" fill="#000" font-size="9.9" text-anchor="start">28 Jun 16:00</text>
<text transform="translate(315,941) scale(0.935,1) rotate(0.03)" fill="#000" font-size="9.9" text-anchor="start">1 Jul 08:00</text>
<text transform="translate(379,941) scale(0.935,1) rotate(0.03)" fill="#000" font-size="9.9" text-anchor="start">2 Jul 00:00</text>
<text transform="translate(443,941) scale(0.935,1) rotate(0.03)" fill="#000" font-size="9.9" text-anchor="start">2 Jul 16:00</text>
<text transform="translate(507,941) scale(0.935,1) rotate(0.03)" fill="#000" font-size="9.9" text-anchor="start">3 Jul 08:00</text>
<text transform="translate(571,941) scale(0.935,1) rotate(0.03)" fill="#000" font-size="9.9" text-anchor="start">4 Jul 00:00</text>
<text transform="translate(635,941) scale(0.935,1) rotate(0.03)" fill="#000" font-size="9.9" text-anchor="start">4 Jul 16:00</text>
<text transform="translate(699,941) scale(0.935,1) rotate(0.03)" fill="#000" font-size="9.9" text-anchor="start">5 Jul 08:00</text>
<text transform="translate(763,941) scale(0.935,1) rotate(0.03)" fill="#000" font-size="9.9" text-anchor="start">8 Jul 00:00</text>
<text transform="translate(827,941) scale(0.935,1) rotate(0.03)" fill="#000" font-size="9.9" text-anchor="start">8 Jul 16:00</text>
<text transform="translate(891,941) scale(0.935,1) rotate(0.03)" fill="#000" font-size="9.9" text-anchor="start">9 Jul 08:00</text>
<text transform="translate(955,941) scale(0.935,1) rotate(0.03)" fill="#000" font-size="9.9" text-anchor="start">10 Jul 00:00</text>
<text transform="translate(1019,941) scale(0.935,1) rotate(0.03)" fill="#000" font-size="9.9" text-anchor="start">10 Jul 16:00</text>
<text transform="translate(1083,941) scale(0.935,1) rotate(0.03)" fill="#000" font-size="9.9" text-anchor="start">11 Jul 08:00</text>
<text transform="translate(1147,941) scale(0.935,1) rotate(0.03)" fill="#000" font-size="9.9" text-anchor="start">12 Jul 00:00</text>
<text transform="translate(1211,941) scale(0.935,1) rotate(0.03)" fill="#000" font-size="9.9" text-anchor="start">12 Jul 16:00</text>
<text transform="translate(1275,941) scale(0.935,1) rotate(0.03)" fill="#000" font-size="9.9" text-anchor="start">15 Jul 08:00</text>
<text transform="translate(1339,941) scale(0.935,1) rotate(0.03)" fill="#000" font-size="9.9" text-anchor="start">16 Jul 00:00</text>
<text transform="translate(1403,941) scale(0.935,1) rotate(0.03)" fill="#000" font-size="9.9" text-anchor="start">16 Jul 16:00</text>
<text transform="translate(12,40) scale(0.935,1) rotate(0.03)" fill="#000" font-size="9.9" text-anchor="start">USDJPY-,H4&#160;&#160;108.276 108.283 108.213 108.225</text>
<text transform="translate(1,596) scale(0.935,1) rotate(0.03)" fill="#000" font-size="9.9" text-anchor="start">MACD(12,26,9) -0.0431 -0.1090</text>
<text transform="translate(1,781) scale(0.935,1) rotate(0.03)" fill="#000" font-size="9.9" text-anchor="start">RSI(14) 52.2937</text>
<text transform="translate(1481.6,249) scale(0.858,1) rotate(0.03)" fill="#ff0000" font-size="22.8" text-anchor="start">108.323</text>
<text x="1208" y="296" style="font-family:'Liberation Serif','Noto Serif CJK SC',serif;font-weight:500;font-size:32px;letter-spacing:1px" fill="#0a6a0a">多空转折点</text>
<text x="1207" y="295" style="font-family:'Liberation Serif','Noto Serif CJK SC',serif;font-weight:500;font-size:32px;letter-spacing:1px" fill="#00ff00">多空转折点</text>
</svg>
<div id="tb"></div><div id="tbl"></div>
<div class="pb" style="left:259px"></div>
<div class="pb" style="left:411px"></div>
<div class="pb" style="left:439px"></div>
<div class="pb" style="left:599px"></div>
<div class="pb" style="left:1045px"></div>
<svg id="tbi" width="1671" height="24" viewBox="0 0 1671 24"><g>
<path d="M-3.5,4.5 H4.5 L7.5,7.5 V15.5 H-3.5 Z" fill="#fff" stroke="#9a9a9a"/>
<path d="M4.5,4.5 V7.5 H7.5" fill="none" stroke="#9a9a9a"/>
<rect x="0" y="11.5" width="5" height="1" fill="#aaa"/>
<path d="M3.9,11.2 h3.2 v3.3 h3.6 v3.2 h-3.6 v3.5 h-3.2 v-3.5 h-3.8 v-3.2 h3.8 z" fill="#22dd22" stroke="#0a8a0a" stroke-width="1"/>
</g><g>
<defs><linearGradient id="gb" x1="0" y1="0" x2="1" y2="1"><stop offset="0" stop-color="#f9e27a"/><stop offset="0.55" stop-color="#e8b824"/><stop offset="1" stop-color="#c98a14"/></linearGradient></defs>
<path d="M67.4,5 L78,13 L70.4,19.8 L62,14.2 Z" fill="#8a5a10"/>
<path d="M67.4,5 L77.4,12.4 L70.2,17.6 L62.6,13.4 Z" fill="url(#gb)" stroke="#b07a16" stroke-width="0.7"/>
<path d="M62.8,14.6 L70.3,19 L77.4,13.4" fill="none" stroke="#f1d58a" stroke-width="0.7"/>
</g><g>
<path d="M92.4,5 L96.8,4 L102.6,5 V14.4 H92.4 Z" fill="#2088f0" stroke="#1668c8" stroke-width="0.8"/>
<path d="M95.4,5.6 L102,6.2 V13.4 H95.4 Z" fill="#7ec4ff"/>
<rect x="96.6" y="7.6" width="4.6" height="1" fill="#e8f4ff"/><rect x="96.6" y="9.8" width="3" height="0.9" fill="#1668c8"/>
<path d="M93.2,19.4 a2.7,2.7 0 0 1 -0.2,-5.4 a3.3,3.3 0 0 1 6,-1.2 a2.6,2.6 0 0 1 4.6,1.4 a2.5,2.5 0 0 1 -0.2,5.2 Z" fill="#e9f0f8" stroke="#4f86cc" stroke-width="1"/>
</g><g fill="none">
<circle cx="126" cy="12" r="7.4" stroke="#9fc0e8" stroke-width="1.3" stroke-dasharray="23.2 23.2" stroke-dashoffset="-11.6"/>
<circle cx="126" cy="12" r="7.4" stroke="#8ec08e" stroke-width="1.3" stroke-dasharray="23.2 23.2" stroke-dashoffset="11.6"/>
<circle cx="126" cy="12" r="4.8" stroke="#5a8ad8" stroke-width="1.4" stroke-dasharray="15 15" stroke-dashoffset="-7.5"/>
<circle cx="126" cy="12" r="4.8" stroke="#4da04d" stroke-width="1.4" stroke-dasharray="15 15" stroke-dashoffset="7.5"/>
<circle cx="126" cy="11.5" r="2" fill="#2a5fd0" stroke="none"/>
<path d="M126.6,12 V19.6 L130.5,18" stroke="#2e9e2e" stroke-width="1.6"/>
</g><g>
<path d="M145.4,10.5 L152.8,19.6 L160.4,10.5 Z" fill="#f5d840" stroke="#c9a21a" stroke-width="0.8"/>
<ellipse cx="153" cy="9.3" rx="8" ry="2.6" fill="#4a9fe0" stroke="#2d7cc0" stroke-width="0.8"/>
<path d="M148.5,9 a4.5,4.8 0 0 1 9,0 Z" fill="#6db8f0" stroke="#2d7cc0" stroke-width="0.8"/>
<circle cx="157.6" cy="15.8" r="4" fill="#e02010" stroke="#b01008" stroke-width="0.6"/>
<rect x="156" y="14.2" width="3.2" height="3.2" fill="#fff"/>
</g><rect x="221" y="0" width="1" height="23" fill="#a0a0a0"/><rect x="222" y="0" width="1" height="23" fill="#fbfbfb"/><rect x="225" y="2" width="3" height="1" fill="#a8a8a8"/><rect x="225" y="4" width="3" height="1" fill="#a8a8a8"/><rect x="225" y="6" width="3" height="1" fill="#a8a8a8"/><rect x="225" y="8" width="3" height="1" fill="#a8a8a8"/><rect x="225" y="10" width="3" height="1" fill="#a8a8a8"/><rect x="225" y="12" width="3" height="1" fill="#a8a8a8"/><rect x="225" y="14" width="3" height="1" fill="#a8a8a8"/><rect x="225" y="16" width="3" height="1" fill="#a8a8a8"/><rect x="225" y="18" width="3" height="1" fill="#a8a8a8"/><rect x="225" y="20" width="3" height="1" fill="#a8a8a8"/><g shape-rendering="crispEdges" fill="#505050"><rect x="239" y="6" width="1" height="14"/><rect x="238" y="7" width="3" height="1"/><rect x="237" y="17" width="14" height="1"/><rect x="249" y="16" width="1" height="3"/></g><g shape-rendering="crispEdges" fill="#169016"><rect x="245" y="7" width="1" height="9"/><rect x="246" y="8" width="2" height="1"/><rect x="243" y="14" width="2" height="1"/></g><g shape-rendering="crispEdges" fill="#505050"><rect x="267" y="6" width="1" height="14"/><rect x="266" y="7" width="3" height="1"/><rect x="265" y="17" width="14" height="1"/><rect x="277" y="16" width="1" height="3"/></g><defs><linearGradient id="cg" x1="0" y1="0" x2="0" y2="1"><stop offset="0" stop-color="#8cff98"/><stop offset="1" stop-color="#22dd3a"/></linearGradient></defs><g shape-rendering="crispEdges"><rect x="273" y="4" width="1" height="12" fill="#088a08"/><rect x="271" y="6" width="5" height="8" fill="#088a08"/><rect x="272" y="7" width="3" height="6" fill="url(#cg)"/></g><g shape-rendering="crispEdges" fill="#505050"><rect x="295" y="6" width="1" height="14"/><rect x="294" y="7" width="3" height="1"/><rect x="293" y="17" width="14" height="1"/><rect x="305" y="16" width="1" height="3"/></g><path d="M294,14.8 C296.5,13.6 298,9.2 300,9.2 C302,9.2 303.5,12.4 306,13.2" stroke="#2e9e2e" stroke-width="1.1" fill="none"/><rect x="316" y="1" width="1" height="21" fill="#a0a0a0"/><path d="M335,14.2 L340,18.4" stroke="#b8860b" stroke-width="3.4" stroke-linecap="round"/><path d="M335.3,14.2 L339.8,18" stroke="#f2d45a" stroke-width="1.6" stroke-linecap="round"/><circle cx="331" cy="10" r="5.5" fill="#d4e8fa" stroke="#3f7fd6" stroke-width="1.3"/><rect x="328" y="9.2" width="6" height="1.7" fill="#3f86c8"/><rect x="330.15" y="7" width="1.7" height="6" fill="#3f86c8"/><path d="M363,14.2 L368,18.4" stroke="#b8860b" stroke-width="3.4" stroke-linecap="round"/><path d="M363.3,14.2 L367.8,18" stroke="#f2d45a" stroke-width="1.6" stroke-linecap="round"/><circle cx="359" cy="10" r="5.5" fill="#d4e8fa" stroke="#3f7fd6" stroke-width="1.3"/><rect x="356" y="9.2" width="6" height="1.7" fill="#3f86c8"/><rect x="381" y="4.4" width="8" height="7.6" fill="#3a9a1e"/><rect x="382" y="7.4" width="6" height="3.6" fill="#fff" opacity="0.92"/><rect x="383" y="8.600000000000001" width="4" height="1" fill="#3a9a1e" opacity="0.6"/><rect x="382" y="5.4" width="1" height="1" fill="#fff" opacity="0.8"/><rect x="389" y="4.4" width="8" height="7.6" fill="#1f55d0"/><rect x="390" y="7.4" width="6" height="3.6" fill="#fff" opacity="0.92"/><rect x="391" y="8.600000000000001" width="4" height="1" fill="#1f55d0" opacity="0.6"/><rect x="390" y="5.4" width="1" height="1" fill="#fff" opacity="0.8"/><rect x="381" y="12" width="8" height="7.6" fill="#1f55d0"/><rect x="382" y="15" width="6" height="3.6" fill="#fff" opacity="0.92"/><rect x="383" y="16.2" width="4" height="1" fill="#1f55d0" opacity="0.6"/><rect x="382" y="13" width="1" height="1" fill="#fff" opacity="0.8"/><rect x="389" y="12" width="8" height="7.6" fill="#3a9a1e"/><rect x="390" y="15" width="6" height="3.6" fill="#fff" opacity="0.92"/><rect x="391" y="16.2" width="4" height="1" fill="#3a9a1e" opacity="0.6"/><rect x="390" y="13" width="1" height="1" fill="#fff" opacity="0.8"/><rect x="406" y="1" width="1" height="21" fill="#a0a0a0"/><g shape-rendering="crispEdges" fill="#505050"><rect x="419" y="6" width="1" height="14"/><rect x="418" y="7" width="3" height="1"/><rect x="417" y="17" width="14" height="1"/><rect x="429" y="16" width="1" height="3"/></g><path d="M424.4,8.4 L428,11.5 L424.4,14.6 Z" fill="#7be07b" stroke="#18a018" stroke-width="1"/><g shape-rendering="crispEdges" fill="#505050"><rect x="447" y="6" width="1" height="14"/><rect x="446" y="7" width="3" height="1"/><rect x="445" y="17" width="14" height="1"/><rect x="457" y="16" width="1" height="3"/></g><rect x="453" y="6" width="1" height="10" fill="#1a68a8" shape-rendering="crispEdges"/><path d="M454.3,11.5 L456.9,9.3 L456.9,13.7 Z" fill="#e04a10"/><rect x="456.6" y="11" width="2.4" height="1" fill="#e04a10"/><rect x="468" y="1" width="1" height="21" fill="#a0a0a0"/><g>
<path d="M478.5,4.5 H486.5 L489.5,7.5 V17.5 H478.5 Z" fill="#fff" stroke="#9a9a9a"/>
<path d="M486.5,4.5 V7.5 H489.5" fill="none" stroke="#9a9a9a"/>
<path d="M484,7.5 q-2,0 -2,2 v4 q0,2 2,2" fill="none" stroke="#777" stroke-width="0.9"/>
<path d="M486.4,11 h3 v3.4 h3.6 v3 h-3.6 v3.6 h-3 v-3.6 h-3.6 v-3 h3.6 z" fill="#22dd22" stroke="#0a8a0a" stroke-width="1"/>
</g><path d="M500,11 h5.4 l-2.7,3 z" fill="#000"/><g>
<circle cx="524" cy="11.8" r="6.6" fill="#fff" stroke="#1a62c8" stroke-width="2.6"/>
<circle cx="524" cy="11.8" r="7.6" fill="none" stroke="#0f4aa8" stroke-width="0.6"/>
<circle cx="524" cy="11.8" r="4.3" fill="none" stroke="#b8c4d4" stroke-width="0.9" stroke-dasharray="0.8 1.45"/>
<path d="M523.7,8.6 V12.2 H526.4" fill="none" stroke="#444" stroke-width="1.1"/>
</g><path d="M539,11 h5.4 l-2.7,3 z" fill="#000"/><g>
<rect x="555.6" y="5.6" width="15" height="13" fill="#fff" stroke="#3a76c8" stroke-width="1.2"/>
<rect x="555" y="5" width="16.2" height="2.4" fill="#3a76c8"/>
<rect x="556.2" y="12" width="13.8" height="0.9" fill="#7aa6e0"/>
<path d="M557.5,11 L560,10.2 L562,9.2 L564.5,10 L567,9.4 L569,9" stroke="#a02010" stroke-width="1.2" fill="none"/>
<path d="M558,16.2 L560.5,15.6 L562.5,16.4 L565,14.6 L566.5,15.6 L568.6,16.4" stroke="#1e9a1e" stroke-width="1.2" fill="none"/>
</g><path d="M578,11 h5.4 l-2.7,3 z" fill="#000"/><rect x="589" y="0" width="1" height="23" fill="#a0a0a0"/><rect x="590" y="0" width="1" height="23" fill="#fbfbfb"/><rect x="593" y="2" width="3" height="1" fill="#a8a8a8"/><rect x="593" y="4" width="3" height="1" fill="#a8a8a8"/><rect x="593" y="6" width="3" height="1" fill="#a8a8a8"/><rect x="593" y="8" width="3" height="1" fill="#a8a8a8"/><rect x="593" y="10" width="3" height="1" fill="#a8a8a8"/><rect x="593" y="12" width="3" height="1" fill="#a8a8a8"/><rect x="593" y="14" width="3" height="1" fill="#a8a8a8"/><rect x="593" y="16" width="3" height="1" fill="#a8a8a8"/><rect x="593" y="18" width="3" height="1" fill="#a8a8a8"/><rect x="593" y="20" width="3" height="1" fill="#a8a8a8"/><path d="M607.2,5 V16 L609.8,13.6 L612.2,18.9 L614.2,18 L611.8,12.9 L615.4,12.6 Z" fill="#4d4d4d"/><path d="M632,12.6 H638 M641,12.6 H647 M639.4,5.2 V11 M639.4,14.2 V19.8" stroke="#555" stroke-width="1.4" fill="none"/><rect x="639" y="12.2" width="0.9" height="0.9" fill="#555"/><rect x="656" y="1" width="1" height="21" fill="#a0a0a0"/><rect x="673" y="6.2" width="1.3" height="12.6" fill="#555"/><rect x="696" y="12" width="12.2" height="1.3" fill="#555"/><path d="M724.2,18.8 L736,7" stroke="#555" stroke-width="1.3"/><g stroke="#555" stroke-width="1.1" fill="none">
<path d="M750,14 L762,5.4 M752,18 L764,9.4"/>
<path d="M753.6,11.6 L752,18 M757.4,8.8 L755.8,15.2 M761,6 L759.6,12.6 M763,4.4 L762,10.8"/>
</g><text x="760.3" y="20.8" font-size="6.5" font-weight="700" fill="#444" font-family="'Liberation Sans',sans-serif">E</text><line x1="779" y1="5.6" x2="792.4" y2="5.6" stroke="#555" stroke-width="1" stroke-dasharray="1 1"/><line x1="779" y1="8.7" x2="792.4" y2="8.7" stroke="#555" stroke-width="1" stroke-dasharray="1 1"/><line x1="779" y1="12.4" x2="792.4" y2="12.4" stroke="#555" stroke-width="1" stroke-dasharray="1 1"/><line x1="779" y1="16.6" x2="788" y2="16.6" stroke="#555" stroke-width="1" stroke-dasharray="1 1"/><text x="788.6" y="20.8" font-size="6.5" font-weight="700" fill="#444" font-family="'Liberation Sans',sans-serif">F</text><text x="810" y="17" font-size="11.8" fill="#555" stroke="#555" stroke-width="0.35" font-family="'Liberation Sans',sans-serif">A</text><rect x="836.4" y="6.2" width="11.4" height="12.4" fill="none" stroke="#555" stroke-width="1" stroke-dasharray="1 1"/>
<rect x="835.6" y="5.4" width="2" height="1.4" fill="#555"/>
<path d="M838.4,9.4 H846 M842.2,9.4 V16.6" stroke="#555" stroke-width="1.5" fill="none"/><g fill="#4d4d4d">
<path d="M862.8,9.8 L866.6,5.6 L870.4,9.8 Z"/><rect x="865.3" y="9.6" width="2.6" height="1.2"/>
<path d="M870,15 L873.8,19.2 L877.6,15 Z"/><rect x="872.5" y="13.9" width="2.6" height="1.2"/>
<path d="M864.6,12.6 L866.5,14.6 L871.8,9.4" stroke="#4d4d4d" stroke-width="1.3" fill="none"/>
</g><path d="M884,11 h5.4 l-2.7,3 z" fill="#000"/><rect x="895" y="0" width="1" height="23" fill="#a0a0a0"/><rect x="896" y="0" width="1" height="23" fill="#fbfbfb"/><rect x="899" y="2" width="3" height="1" fill="#a8a8a8"/><rect x="899" y="4" width="3" height="1" fill="#a8a8a8"/><rect x="899" y="6" width="3" height="1" fill="#a8a8a8"/><rect x="899" y="8" width="3" height="1" fill="#a8a8a8"/><rect x="899" y="10" width="3" height="1" fill="#a8a8a8"/><rect x="899" y="12" width="3" height="1" fill="#a8a8a8"/><rect x="899" y="14" width="3" height="1" fill="#a8a8a8"/><rect x="899" y="16" width="3" height="1" fill="#a8a8a8"/><rect x="899" y="18" width="3" height="1" fill="#a8a8a8"/><rect x="899" y="20" width="3" height="1" fill="#a8a8a8"/><rect x="1156" y="0" width="1" height="23" fill="#a0a0a0"/><rect x="1157" y="0" width="1" height="23" fill="#fbfbfb"/><circle cx="1626.4" cy="9.3" r="3.9" fill="#f6f6f6" stroke="#2456d6" stroke-width="1.1"/><path d="M1623.4,12.4 L1619.2,16.6" stroke="#2456d6" stroke-width="2.1" stroke-linecap="round"/><g stroke="#8e8e8e" stroke-width="0.9">
<ellipse cx="1659" cy="9" rx="6.6" ry="4.4" fill="#f4f4f6"/>
<path d="M1662,12.8 L1662.8,15.4 L1664.4,12.4" fill="#888"/>
<ellipse cx="1650.4" cy="12.8" rx="4.9" ry="3.5" fill="#f0f0f4"/>
<path d="M1647.6,15.6 L1647,18.4 L1649.6,16.2" fill="#888"/>
</g><text transform="translate(917,16) scale(0.94,1) rotate(0.03)" text-anchor="middle" font-size="9.9" fill="#3a3a3a" font-family="'Liberation Sans',sans-serif">M1</text><text transform="translate(945,16) scale(0.94,1) rotate(0.03)" text-anchor="middle" font-size="9.9" fill="#3a3a3a" font-family="'Liberation Sans',sans-serif">M5</text><text transform="translate(973,16) scale(0.94,1) rotate(0.03)" text-anchor="middle" font-size="9.9" fill="#3a3a3a" font-family="'Liberation Sans',sans-serif">M15</text><text transform="translate(1001,16) scale(0.94,1) rotate(0.03)" text-anchor="middle" font-size="9.9" fill="#3a3a3a" font-family="'Liberation Sans',sans-serif">M30</text><text transform="translate(1029,16) scale(0.94,1) rotate(0.03)" text-anchor="middle" font-size="9.9" fill="#3a3a3a" font-family="'Liberation Sans',sans-serif">H1</text><text transform="translate(1057,16) scale(0.94,1) rotate(0.03)" text-anchor="middle" font-size="9.9" fill="#3a3a3a" font-family="'Liberation Sans',sans-serif">H4</text><text transform="translate(1085,16) scale(0.94,1) rotate(0.03)" text-anchor="middle" font-size="9.9" fill="#3a3a3a" font-family="'Liberation Sans',sans-serif">D1</text><text transform="translate(1113,16) scale(0.94,1) rotate(0.03)" text-anchor="middle" font-size="9.9" fill="#3a3a3a" font-family="'Liberation Sans',sans-serif">W1</text><text transform="translate(1141,16) scale(0.94,1) rotate(0.03)" text-anchor="middle" font-size="9.9" fill="#3a3a3a" font-family="'Liberation Sans',sans-serif">MN</text></svg>
<div class="tt" style="left:14px">新订单</div>
<div class="tt" style="left:166px">自动交易</div>


<div id="tp">
<div class="blk" style="left:0;top:0;width:51px;height:64px"></div>
<div class="blk" style="left:0;top:24px;width:108px;height:40px;background:linear-gradient(#3a3ae0 0,#2a2ad6 25%,#0c0cbe 68%,#0000b4 100%)"></div>
<div class="blk" style="left:166px;top:0;width:52px;height:64px"></div>
<div class="blk" style="left:110px;top:24px;width:108px;height:40px;background:linear-gradient(#3a3ae0 0,#2a2ad6 25%,#0c0cbe 68%,#0000b4 100%)"></div>
<div class="ul" style="left:3px;width:44px"></div><div class="ul" style="left:170px;width:44px"></div>
<div class="lbl" style="left:11.5px;transform:scaleX(0.83);transform-origin:0 0">SELL</div><div class="lbl" style="left:179.5px;transform:scaleX(0.92);transform-origin:0 0">BUY</div>
<div style="position:absolute;left:51px;top:0;width:115px;height:24px;background:linear-gradient(#fdfdfd 0,#f2f2f2 88%,#e4e4e4 100%)"></div>
<div id="sp"><div class="b" style="left:0;border-right:1px solid #a8a8a8"><svg width="21" height="19" style="position:absolute;left:0;top:0"><path d="M7.5,8 h5 l-2.5,3 z" fill="#000"/></svg></div>
<div class="v">1.00</div>
<div class="b" style="right:0;border-left:1px solid #a8a8a8"><svg width="21" height="19" style="position:absolute;left:0;top:0"><path d="M7.5,11 h5 l-2.5,-3 z" fill="#000"/></svg></div></div>
<div class="sm" style="left:23px">108</div><div class="bg" style="left:46px">22</div><div class="su" style="left:86px">5</div>
<div class="sm" style="left:133px">108</div><div class="bg" style="left:158px">25</div><div class="su" style="left:197px">0</div>
</div>
<svg width="8" height="6" style="position:absolute;left:0;top:34px"><path d="M0,4.8 L3.2,1.2 L6.4,4.8 Z" fill="#000"/></svg>

</div>
</body></html>
